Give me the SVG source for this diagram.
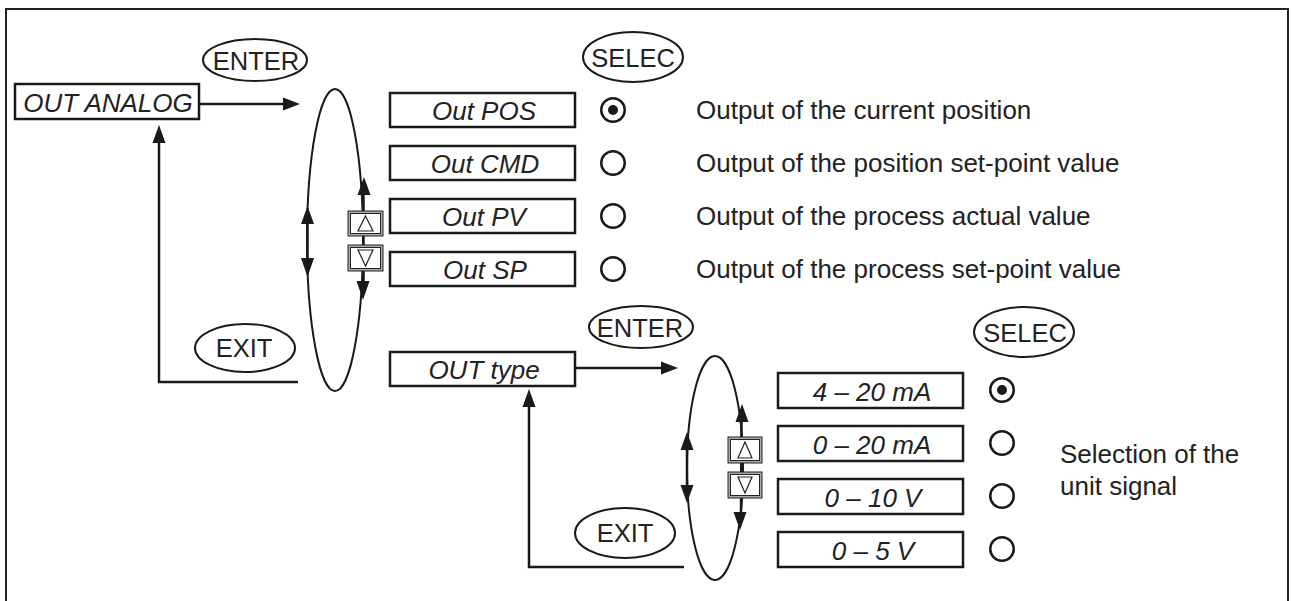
<svg xmlns="http://www.w3.org/2000/svg" width="1291" height="601" viewBox="0 0 1291 601">
<style>
.box{fill:#fff;stroke:#1a1a1a;stroke-width:2.5}
.bt{font-family:"Liberation Sans",Arial,sans-serif;font-style:italic;font-size:26px;fill:#222;text-anchor:middle}
.el{fill:#fff;stroke:#1a1a1a;stroke-width:2}
.et{font-family:"Liberation Sans",Arial,sans-serif;font-size:25.5px;fill:#222;text-anchor:middle}
.dt{font-family:"Liberation Sans",Arial,sans-serif;font-size:26px;fill:#222}
.ln{fill:none;stroke:#1a1a1a;stroke-width:2.5}
.loop{fill:none;stroke:#1a1a1a;stroke-width:2}
.ah{fill:#1a1a1a}
.rad{fill:#fff;stroke:#1a1a1a;stroke-width:2.5}
.btnO{fill:#aaa;stroke:#222;stroke-width:1}
.btnI{fill:#fff;stroke:#222;stroke-width:1}
.tri{fill:none;stroke:#222;stroke-width:1.2}
</style>
<rect width="1291" height="601" fill="#fff"/>
<g id="frame"><path d="M6,610 V9 H1288 V610" fill="none" stroke="#222" stroke-width="2"/></g>

<g id="connectors">
  <line class="ln" x1="199" y1="104" x2="285" y2="104"/>
  <polygon class="ah" points="300,104 283,97.5 283,110.5"/>
  <polyline class="ln" points="298,382 159,382 159,141"/>
  <polygon class="ah" points="159,125 152.5,143 165.5,143"/>
  <ellipse class="loop" cx="335" cy="240" rx="28" ry="151"/>
  <line class="ln" x1="363.5" y1="192" x2="363.5" y2="284"/>
  <polygon class="ah" points="364,177 357.5,195 370.5,195"/>
  <polygon class="ah" points="363,300 356.5,281 369.5,281"/>
  <line class="ln" x1="307.5" y1="220" x2="307.5" y2="262"/>
  <polygon class="ah" points="307.5,206 301,224 314,224"/>
  <polygon class="ah" points="307.5,277 301,258 314,258"/>
  <line class="ln" x1="575" y1="368" x2="663" y2="368"/>
  <polygon class="ah" points="678,368 661,361.5 661,374.5"/>
  <polyline class="ln" points="684,567 529,567 529,405"/>
  <polygon class="ah" points="529,389 522.5,407 535.5,407"/>
  <ellipse class="loop" cx="715" cy="468" rx="28" ry="112"/>
  <line class="ln" x1="741.5" y1="418" x2="741" y2="515"/>
  <polygon class="ah" points="742,404 735.5,422 748.5,422"/>
  <polygon class="ah" points="740,530 733.5,512 746.5,512"/>
  <line class="ln" x1="687" y1="446" x2="687" y2="490"/>
  <polygon class="ah" points="687,432 680.5,450 693.5,450"/>
  <polygon class="ah" points="687,503 680.5,485 693.5,485"/>
</g>

<g id="n-out-analog">
  <rect class="box" x="15" y="84" width="184" height="35"/>
  <text class="bt" x="108" y="111.5">OUT ANALOG</text>
</g>
<g id="n-enter1">
  <ellipse class="el" cx="255" cy="60" rx="52" ry="21"/>
  <text class="et" x="256" y="70">ENTER</text>
</g>
<g id="n-exit1">
  <ellipse class="el" cx="245" cy="348" rx="50" ry="24"/>
  <text class="et" x="244" y="357">EXIT</text>
</g>
<g id="n-btn1">
  <rect class="btnO" x="348" y="211" width="35" height="25"/>
  <rect class="btnI" x="350.5" y="213.5" width="30" height="20"/>
  <polygon class="tri" points="365.5,216 358,231 373,231"/>
  <rect class="btnO" x="348" y="245" width="35" height="26"/>
  <rect class="btnI" x="350.5" y="247.5" width="30" height="21"/>
  <polygon class="tri" points="365.5,266 358,250 373,250"/>
</g>
<g id="n-selec1">
  <ellipse class="el" cx="633" cy="57" rx="50" ry="25"/>
  <text class="et" x="633" y="66.5">SELEC</text>
</g>
<g id="n-out-pos">
  <rect class="box" x="390" y="93" width="185" height="34"/>
  <text class="bt" x="484" y="120">Out POS</text>
  <circle class="rad" cx="613" cy="110" r="11.75"/>
  <circle class="ah" cx="613" cy="110" r="5"/>
  <text class="dt" x="696" y="119">Output of the current position</text>
</g>
<g id="n-out-cmd">
  <rect class="box" x="390" y="146" width="185" height="34"/>
  <text class="bt" x="485" y="173">Out CMD</text>
  <circle class="rad" cx="613" cy="163" r="11.75"/>
  <text class="dt" x="696" y="172">Output of the position set-point value</text>
</g>
<g id="n-out-pv">
  <rect class="box" x="390" y="199" width="185" height="34"/>
  <text class="bt" x="484" y="226">Out PV</text>
  <circle class="rad" cx="613" cy="216" r="11.75"/>
  <text class="dt" x="696" y="225">Output of the process actual value</text>
</g>
<g id="n-out-sp">
  <rect class="box" x="390" y="252" width="185" height="34"/>
  <text class="bt" x="485" y="279">Out SP</text>
  <circle class="rad" cx="613" cy="269" r="11.75"/>
  <text class="dt" x="696" y="278">Output of the process set-point value</text>
</g>
<g id="n-out-type">
  <rect class="box" x="390" y="352" width="185" height="34"/>
  <text class="bt" x="484" y="379">OUT type</text>
</g>
<g id="n-enter2">
  <ellipse class="el" cx="641" cy="327" rx="52" ry="21"/>
  <text class="et" x="640" y="337">ENTER</text>
</g>
<g id="n-exit2">
  <ellipse class="el" cx="625" cy="533" rx="50" ry="25"/>
  <text class="et" x="625" y="542">EXIT</text>
</g>
<g id="n-btn2">
  <rect class="btnO" x="728" y="437" width="34" height="26"/>
  <rect class="btnI" x="730.5" y="439.5" width="29" height="21"/>
  <polygon class="tri" points="745,442 738,458 752,458"/>
  <rect class="btnO" x="728" y="472" width="34" height="26"/>
  <rect class="btnI" x="730.5" y="474.5" width="29" height="21"/>
  <polygon class="tri" points="745,493 738,477 752,477"/>
</g>
<g id="n-selec2">
  <ellipse class="el" cx="1024" cy="332" rx="50" ry="25"/>
  <text class="et" x="1025" y="341.5">SELEC</text>
</g>
<g id="n-4-20">
  <rect class="box" x="778" y="373" width="185" height="35"/>
  <text class="bt" x="872" y="401">4 – 20 mA</text>
  <circle class="rad" cx="1002" cy="390" r="11.75"/>
  <circle class="ah" cx="1002" cy="390" r="5"/>
</g>
<g id="n-0-20">
  <rect class="box" x="778" y="426" width="185" height="35"/>
  <text class="bt" x="872" y="454">0 – 20 mA</text>
  <circle class="rad" cx="1002" cy="443" r="11.75"/>
</g>
<g id="n-0-10">
  <rect class="box" x="778" y="479" width="185" height="35"/>
  <text class="bt" x="873" y="507">0 – 10 V</text>
  <circle class="rad" cx="1002" cy="496" r="11.75"/>
</g>
<g id="n-0-5">
  <rect class="box" x="778" y="532" width="185" height="35"/>
  <text class="bt" x="873" y="560">0 – 5 V</text>
  <circle class="rad" cx="1002" cy="549" r="11.75"/>
</g>
<g id="n-selection-text">
  <text class="dt" x="1060" y="463">Selection of the</text>
  <text class="dt" x="1060" y="495">unit signal</text>
</g>
</svg>
